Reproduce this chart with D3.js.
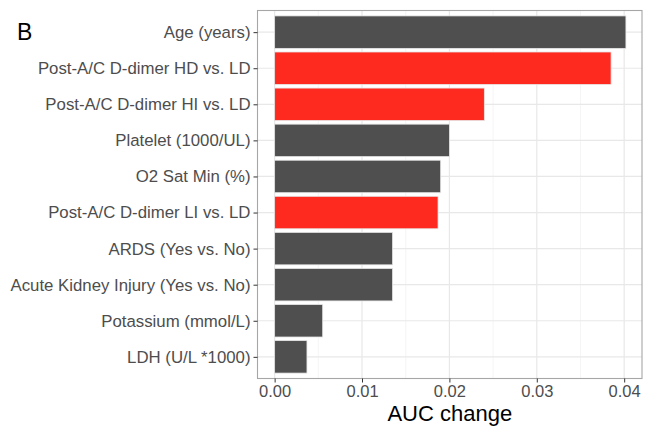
<!DOCTYPE html>
<html>
<head>
<meta charset="utf-8">
<script src="https://cdn.jsdelivr.net/npm/d3@7"></script>
<style>
  html, body { margin: 0; padding: 0; background: #fff; }
  svg { display: block; font-family: "Liberation Sans", Arial, sans-serif; }
</style>
</head>
<body>
<svg id="chart" width="646" height="432"></svg>
<script>
// Variable importance: drop in AUC when each predictor is removed
const categories = [
  "Age (years)",
  "Post-A/C D-dimer HD vs. LD",
  "Post-A/C D-dimer HI vs. LD",
  "Platelet (1000/UL)",
  "O2 Sat Min (%)",
  "Post-A/C D-dimer LI vs. LD",
  "ARDS (Yes vs. No)",
  "Acute Kidney Injury (Yes vs. No)",
  "Potassium (mmol/L)",
  "LDH (U/L *1000)"
];
const aucChange = [0.0402, 0.0385, 0.0240, 0.0200, 0.0190, 0.0187, 0.0135, 0.0135, 0.0055, 0.0037];
const isDimer = [false, true, true, false, false, true, false, false, false, false];
const xTicks = [0, 0.01, 0.02, 0.03, 0.04];
const xMinorTicks = [0.005, 0.015, 0.025, 0.035];

const svg = d3.select("#chart");
const panel = { left: 257.5, right: 642, top: 10.5, bottom: 378.5 };
const font = "'Liberation Sans', Arial, sans-serif";

const x = d3.scaleLinear()
  .domain([-0.00196, 0.04204])
  .range([panel.left, panel.right]);

// category centres, with 0.6 of a step of room at each end
const y = d3.scalePoint()
  .domain(categories)
  .range([panel.top, panel.bottom])
  .padding(0.6);
const barH = y.step() * 0.9;

// grid
const grid = svg.append("g");
grid.selectAll("line.minor").data(xMinorTicks).join("line")
  .attr("x1", d => x(d)).attr("x2", d => x(d))
  .attr("y1", panel.top).attr("y2", panel.bottom)
  .attr("stroke", "#f2f2f2").attr("stroke-width", 0.8);
grid.selectAll("line.major").data(xTicks).join("line")
  .attr("x1", d => x(d)).attr("x2", d => x(d))
  .attr("y1", panel.top).attr("y2", panel.bottom)
  .attr("stroke", "#e8e8e8").attr("stroke-width", 1.2);
grid.selectAll("line.hmajor").data(categories).join("line")
  .attr("x1", panel.left).attr("x2", panel.right)
  .attr("y1", d => y(d)).attr("y2", d => y(d))
  .attr("stroke", "#e8e8e8").attr("stroke-width", 1.2);

// bars
svg.append("g").selectAll("rect").data(categories).join("rect")
  .attr("x", x(0))
  .attr("y", d => y(d) - barH / 2)
  .attr("width", (d, i) => x(aucChange[i]) - x(0))
  .attr("height", barH)
  .attr("fill", (d, i) => isDimer[i] ? "#ff2a1f" : "#4f4f4f")
  .attr("stroke", "#e6e6e6")
  .attr("stroke-width", 0.8);

// panel border
svg.append("rect")
  .attr("x", panel.left).attr("y", panel.top)
  .attr("width", panel.right - panel.left).attr("height", panel.bottom - panel.top)
  .attr("fill", "none").attr("stroke", "#a6a6a6").attr("stroke-width", 1.1);

// y axis
const yAxis = svg.append("g")
  .attr("transform", `translate(${panel.left},0)`)
  .call(d3.axisLeft(y).tickSize(4).tickPadding(3));
yAxis.attr("font-size", null).attr("font-family", null);
yAxis.select(".domain").remove();
yAxis.selectAll(".tick line").attr("stroke", "#333").attr("stroke-width", 1);
yAxis.selectAll(".tick text")
  .attr("fill", "#4d4d4d").style("font-size", "16.8px")
  .style("font-family", font);

// x axis
const xAxis = svg.append("g")
  .attr("transform", `translate(0,${panel.bottom})`)
  .call(d3.axisBottom(x).tickValues(xTicks).tickFormat(d3.format(".2f")).tickSize(4).tickPadding(3));
xAxis.attr("font-size", null).attr("font-family", null);
xAxis.select(".domain").remove();
xAxis.selectAll(".tick line").attr("stroke", "#333").attr("stroke-width", 1);
xAxis.selectAll(".tick text")
  .attr("fill", "#4d4d4d").style("font-size", "16.5px")
  .style("font-family", font);

// axis title
svg.append("text")
  .attr("x", (panel.left + panel.right) / 2)
  .attr("y", 421)
  .attr("text-anchor", "middle")
  .attr("fill", "#000")
  .style("font-size", "22px")
  .style("font-family", font)
  .text("AUC change");

// panel tag
svg.append("text")
  .attr("x", 17)
  .attr("y", 40)
  .attr("fill", "#000")
  .style("font-size", "23px")
  .style("font-family", font)
  .text("B");
</script>
</body>
</html>
